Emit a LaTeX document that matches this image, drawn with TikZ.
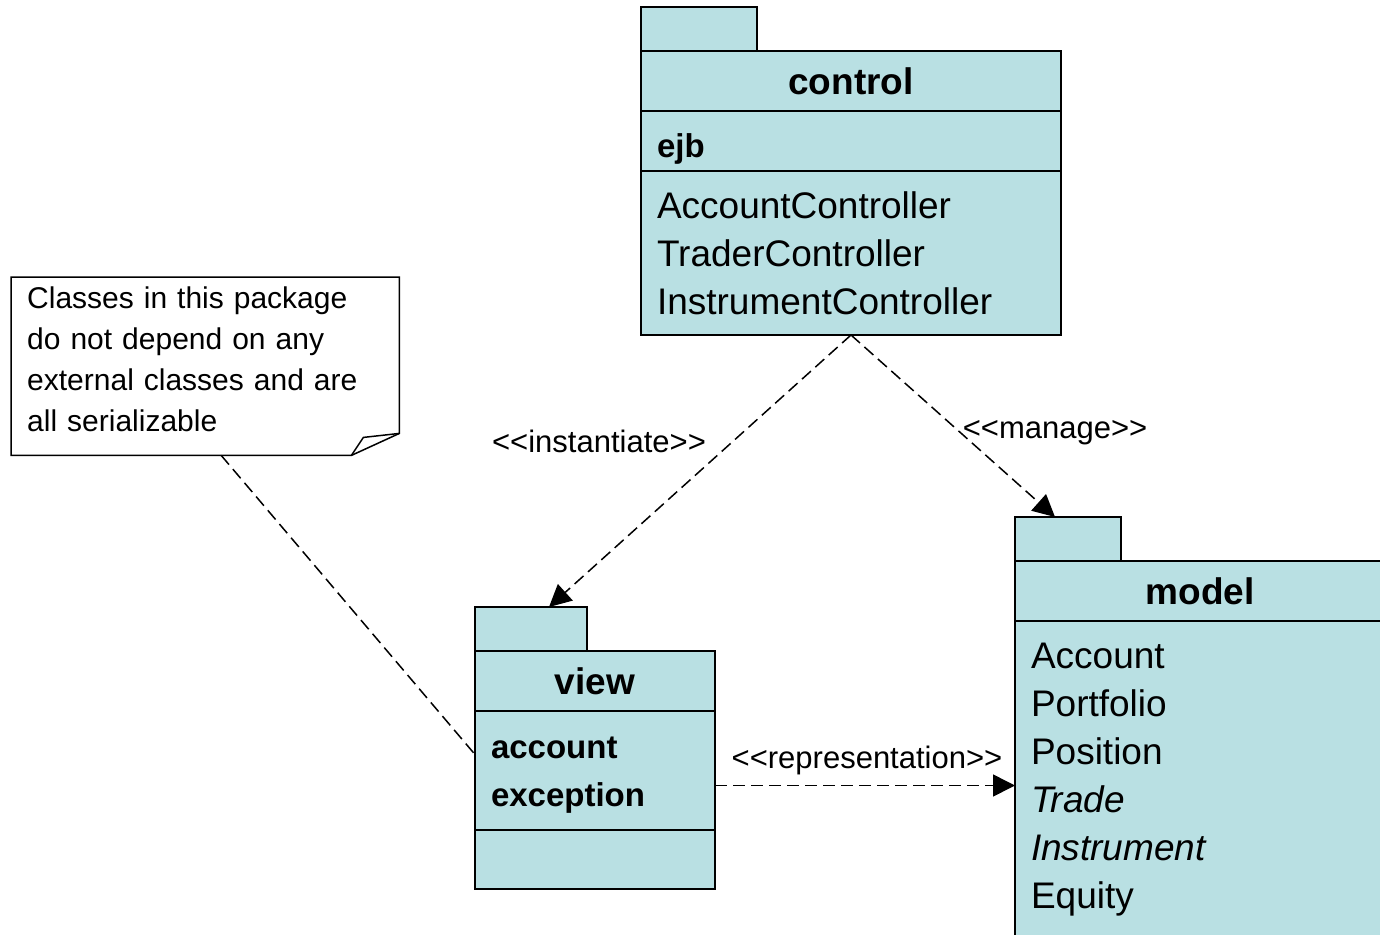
\documentclass[tikz,border=0pt]{standalone}
\usepackage{fontspec}
\setmainfont{Liberation Sans}
\usepackage{tikz}
\usetikzlibrary{positioning, arrows.meta}
\definecolor{pkg_cyan}{HTML}{B9E0E3}
\newcommand{\stereo}[1]{<\kern0pt<#1>\kern0pt>}

\begin{document}
\begin{tikzpicture}[x=1pt, y=-1pt,
    pkgbox/.style={draw, fill=pkg_cyan, line width=1.5pt, inner sep=0pt, outer sep=0pt},
    pkgtab/.style={pkgbox, anchor=north west, minimum height=44pt},
    pkghead/.style={pkgbox, anchor=north west, minimum height=60pt, font=\fontsize{37}{44}\selectfont\bfseries},
    pkgpart/.style={pkgbox, inner xsep=16pt, align=left, font=\fontsize{37}{48}\selectfont},
    subpkg/.style={font=\fontsize{33}{48}\selectfont\bfseries},
    dep/.style={line width=1.5pt, dash pattern=on 12pt off 6pt, -{Triangle[length=22pt, width=22pt]}},
    lbl/.style={inner sep=0pt, font=\fontsize{31}{37}\selectfont}]
    \path[use as bounding box, clip] (0,0) rectangle (1380,934);

    % control package
    \node[pkgtab, minimum width=116pt] (ctrl tab) at (641,7) {};
    \node[pkghead, minimum width=420pt] (ctrl head) at (ctrl tab.south west) {control};
    \node[pkgpart, subpkg, below=0pt of ctrl head, minimum height=60pt, text width=388pt] (ctrl sub)
        {\rule{0pt}{40pt}ejb};
    \node[pkgpart, below=0pt of ctrl sub, minimum height=164pt, text width=388pt] (ctrl cls)
        {AccountController\\TraderController\\InstrumentController};

    % view package
    \node[pkgtab, minimum width=112pt] (view tab) at (475,607) {};
    \node[pkghead, minimum width=240pt] (view head) at (view tab.south west) {view};
    \node[pkgpart, subpkg, below=0pt of view head, minimum height=119pt, text width=208pt] (view sub)
        {\rule{0pt}{31pt}account\\exception};
    \node[pkgpart, below=0pt of view sub, minimum height=59pt, text width=208pt] (view cls) {};

    % model package
    \node[pkgtab, minimum width=106pt] (model tab) at (1015,517) {};
    \node[pkghead, minimum width=370pt] (model head) at (model tab.south west) {model};
    \node[pkgpart, below=0pt of model head, minimum height=318pt, text width=338pt] (model cls)
        {Account\\Portfolio\\Position\\\textit{Trade}\\\textit{Instrument}\\Equity};

    % note
    \node[anchor=north west, inner xsep=16pt, inner ysep=0pt, align=left, text width=356pt,
        minimum height=178pt, font=\fontsize{30}{41}\selectfont] (note) at (11,277)
        {Classes in this package\\do not depend on any\\external classes and are\\all serializable\rule[-15pt]{0pt}{15pt}};
    \draw[line width=1.5pt] (note.north west) -- (note.north east) -- ([yshift=22pt]note.south east)
        -- ([xshift=-48pt]note.south east) -- (note.south west) -- cycle;
    \draw[line width=1.5pt] ([xshift=-48pt]note.south east) -- ([xshift=-36pt, yshift=18pt]note.south east)
        -- ([yshift=22pt]note.south east);

    % dependencies
    \coordinate (view in) at ([xshift=18pt]view tab.north);
    \coordinate (model in) at ([xshift=-13pt]model tab.north);
    \coordinate (rep start) at ([yshift=-15pt]view sub.east);
    \draw[dep] (ctrl cls.south) -- (view in);
    \draw[dep] (ctrl cls.south) -- (model in);
    \draw[dep] (rep start) -- (rep start -| model cls.west);
    \draw[line width=1.5pt, dash pattern=on 12pt off 6pt] ([xshift=16pt]note.south) -- ([yshift=16pt]view sub.west);

    \node[lbl] (inst lbl) at (599,441) {\stereo{instantiate}};
    \node[lbl] (manage lbl) at (1055,433) {\stereo{manage}};
    \node[lbl] (rep lbl) at (867,760) {\stereo{representation}};
\end{tikzpicture}
\end{document}
